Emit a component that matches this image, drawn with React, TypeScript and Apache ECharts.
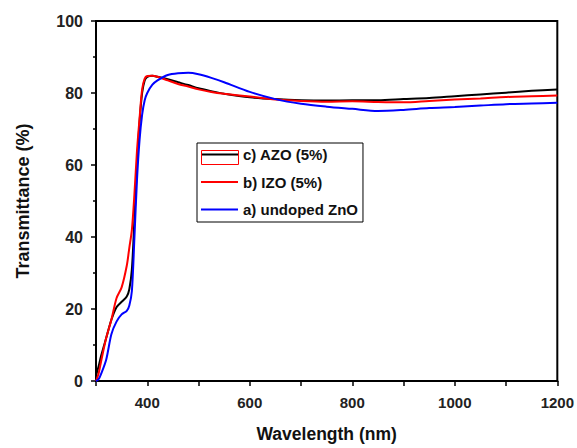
import React, { useEffect, useRef } from "react";
import * as echarts from "echarts";

const wavelengths = [300, 305, 310, 320, 330, 340, 350, 360, 365, 370, 375, 380, 385, 390, 395, 400, 410, 420, 440, 460, 480, 500, 525, 550, 600, 650, 700, 750, 800, 850, 900, 950, 1000, 1050, 1100, 1150, 1200];

const azo = [1.5, 4, 7, 12, 17, 20.5, 22, 23.5, 25.5, 31, 45, 60, 72, 80, 83.5, 84.5, 84.8, 84.5, 83.8, 83, 82.2, 81.3, 80.5, 79.8, 78.8, 78.3, 78.0, 77.9, 78.0, 78.0, 78.3, 78.6, 79.1, 79.6, 80.1, 80.6, 81.0];
const izo = [0, 2, 5.5, 12, 17, 23, 26, 32, 37, 42, 52, 64, 73, 81, 84, 84.7, 84.8, 84.5, 83.5, 82.5, 81.8, 81.0, 80.3, 79.8, 79.0, 78.2, 77.8, 77.6, 77.7, 77.5, 77.4, 77.8, 78.2, 78.5, 78.9, 79.1, 79.3];
const zno = [0, 0.5, 2, 6, 13, 16.5, 18.5, 19.5, 21, 25, 40, 56, 67, 74, 78, 80, 82.3, 83.5, 85, 85.5, 85.6, 85.2, 84.2, 83, 80.3, 78.3, 77, 76.2, 75.6, 75.0, 75.3, 75.8, 76.1, 76.5, 76.9, 77.1, 77.3];

const seriesNames = ["c) AZO (5%)", "b) IZO (5%)", "a) undoped ZnO"];
const seriesColors = ["#000000", "#ff0000", "#0000ff"];
const seriesValues = [azo, izo, zno];

export default function App() {
  const ref = useRef<HTMLDivElement>(null);
  useEffect(() => {
    document.body.style.margin = "0";
    const chart = echarts.init(ref.current!, null, { renderer: "svg" });
    const font = "Arial, 'Liberation Sans', sans-serif";
    chart.setOption({
      animation: false,
      backgroundColor: "#ffffff",
      grid: { left: 96, right: 17, top: 21, bottom: 64, show: true, borderColor: "#000", borderWidth: 2 },
      legend: {
        orient: "vertical",
        left: 197,
        top: 143,
        data: seriesNames,
        borderColor: "#000",
        borderWidth: 1,
        padding: [4, 5, 5, 3],
        itemWidth: 37,
        itemHeight: 14,
        itemGap: 12.5,
        itemStyle: { opacity: 0 },
        textStyle: { fontFamily: font, fontWeight: "bold", fontSize: 15, color: "#111" },
      },
      xAxis: {
        type: "value",
        min: 300,
        max: 1200,
        interval: 100,
        name: "Wavelength (nm)",
        nameLocation: "middle",
        nameGap: 44,
        nameTextStyle: { fontFamily: font, fontWeight: "bold", fontSize: 17.5, color: "#111" },
        axisLine: { show: true, lineStyle: { color: "#000", width: 2 } },
        axisTick: { show: true, length: 5, lineStyle: { color: "#000", width: 1.5 } },
        axisLabel: {
          fontFamily: font,
          fontWeight: "bold",
          fontSize: 15,
          color: "#222",
          margin: 14,
          formatter: (v: number) => (v % 200 === 0 ? String(v) : ""),
        },
        splitLine: { show: false },
      },
      yAxis: {
        type: "value",
        min: 0,
        max: 100,
        interval: 20,
        name: "Transmittance (%)",
        nameLocation: "middle",
        nameGap: 64,
        nameTextStyle: { fontFamily: font, fontWeight: "bold", fontSize: 18, color: "#111" },
        axisLine: { show: true, lineStyle: { color: "#000", width: 2 } },
        axisTick: { show: true, length: 5, lineStyle: { color: "#000", width: 1.5 } },
        minorTick: { show: true, splitNumber: 2, length: 3, lineStyle: { color: "#000", width: 1.5 } },
        axisLabel: { fontFamily: font, fontWeight: "bold", fontSize: 16, color: "#222", margin: 13 },
        splitLine: { show: false },
      },
      graphic: [
        {
          type: "rect",
          left: 199,
          top: 148,
          shape: { width: 37, height: 14 },
          style: { fill: "none", stroke: "#ff0000", lineWidth: 1 },
          z: 100,
        },
      ],
      series: seriesNames.map((name, i) => ({
        name,
        type: "line",
        data: wavelengths.map((w, j) => [w, seriesValues[i][j]]),
        smooth: 0.3,
        symbol: "none",
        showSymbol: false,
        lineStyle: { color: seriesColors[i], width: 2 },
        itemStyle: { color: seriesColors[i] },
      })),
    });
    return () => chart.dispose();
  }, []);
  return <div ref={ref} style={{ width: 577, height: 448 }} />;
}
